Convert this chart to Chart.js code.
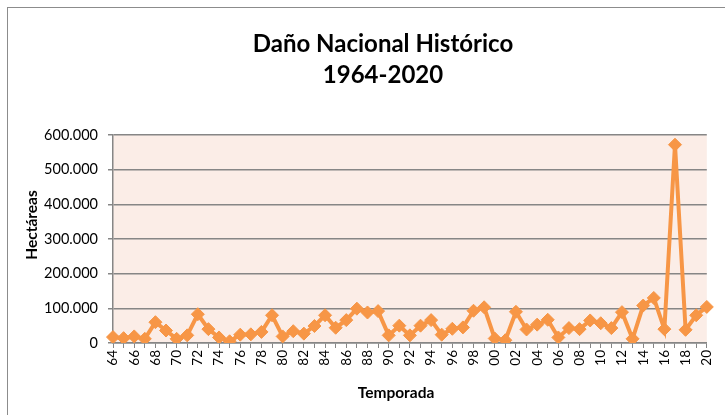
<!DOCTYPE html>
<html>
<head>
<meta charset="utf-8">
<script src="https://cdn.jsdelivr.net/npm/chart.js@4/dist/chart.umd.min.js"></script>
<style>
html,body{margin:0;padding:0;background:#fff;}
#wrap{position:relative;width:725px;height:415px;overflow:hidden;}
#frame{position:absolute;left:7px;top:7px;width:800px;height:500px;border:1px solid #8c8c8c;box-sizing:border-box;}
canvas{position:absolute;left:0;top:0;}
</style>
</head>
<body>
<div id="wrap">
<div id="frame"></div>
<canvas id="c" width="725" height="415"></canvas>
</div>
<script>
const titleLines = ['Daño Nacional Histórico', '1964-2020'];
const yAxisTitle = 'Hectáreas';
const xAxisTitle = 'Temporada';
const seasons = ['64','65','66','67','68','69','70','71','72','73','74','75','76','77','78','79',
  '80','81','82','83','84','85','86','87','88','89','90','91','92','93','94','95','96','97','98','99',
  '00','01','02','03','04','05','06','07','08','09','10','11','12','13','14','15','16','17','18','19','20'];
const hectareas = [17000,14000,19000,12000,60000,36000,12000,22000,83000,40000,16000,5000,24000,25000,32000,80000,
  19000,34000,27000,49000,80000,44000,66000,99000,88000,92000,22000,50000,22000,50000,66000,24000,41000,45000,93000,103000,
  13000,8000,90000,39000,53000,67000,16000,43000,40000,65000,57000,43000,89000,12000,108000,130000,40000,572000,38000,80000,104000];
const yTicks = [0,100000,200000,300000,400000,500000,600000];

function fmt(v){ return v === 0 ? '0' : String(v).replace(/\B(?=(\d{3})+(?!\d))/g, '.'); }

const bgPlugin = {
  id: 'plotBg',
  beforeDraw(chart){
    const a = chart.chartArea, ctx = chart.ctx;
    ctx.save();
    ctx.fillStyle = '#FBEDE7';
    ctx.fillRect(a.left, a.top, a.right - a.left, a.bottom - a.top);
    ctx.restore();
  },
  afterDraw(chart){
    const ctx = chart.ctx;
    ctx.save();
    ctx.fillStyle = '#000';
    ctx.textAlign = 'center';
    ctx.textBaseline = 'middle';
    ctx.font = 'bold 24px Lato';
    ctx.fillText(titleLines[0], 383, 44);
    ctx.fillText(titleLines[1], 383, 75);
    ctx.font = 'bold 15.5px Lato';
    ctx.fillText(xAxisTitle, 396, 393);
    ctx.translate(32, 225);
    ctx.rotate(-Math.PI / 2);
    ctx.fillText(yAxisTitle, 0, 0);
    ctx.restore();
  }
};

new Chart(document.getElementById('c'), {
  type: 'line',
  data: {
    labels: seasons,
    datasets: [{
      data: hectareas,
      borderColor: '#F79646',
      backgroundColor: '#F79646',
      borderWidth: 4,
      pointStyle: 'rectRot',
      pointRadius: 6.5,
      pointBorderWidth: 1,
      tension: 0
    }]
  },
  options: {
    responsive: false,
    animation: false,
    layout: { padding: { left: 20, right: 14, top: 135, bottom: 8 } },
    plugins: {
      legend: { display: false },
      tooltip: { enabled: false },
      title: { display: false }
    },
    scales: {
      x: {
        offset: false,
        grid: { drawOnChartArea: false, drawTicks: true, tickLength: 5, color: '#868686', lineWidth: 1 },
        border: { color: '#868686', width: 1.5 },
        ticks: {
          autoSkip: false, maxRotation: 90, minRotation: 90, padding: 2,
          color: '#000', font: { family: 'Lato', size: 13.5 },
          callback: function(val, i){ return i % 2 === 0 ? seasons[i] : ''; }
        },
        afterFit(scale){ scale.height = 64; }
      },
      y: {
        min: 0, max: 600000,
        afterBuildTicks(scale){ scale.ticks = yTicks.map(v => ({ value: v })); },
        grid: { color: '#868686', lineWidth: 1.5, tickLength: 5, drawTicks: true },
        border: { color: '#868686', width: 1.5 },
        ticks: { color: '#000', padding: 10, font: { family: 'Lato', size: 14.5 }, callback: v => fmt(v) },
        afterFit(scale){ scale.width = 93; }
      }
    }
  },
  plugins: [bgPlugin]
});
</script>
</body>
</html>
